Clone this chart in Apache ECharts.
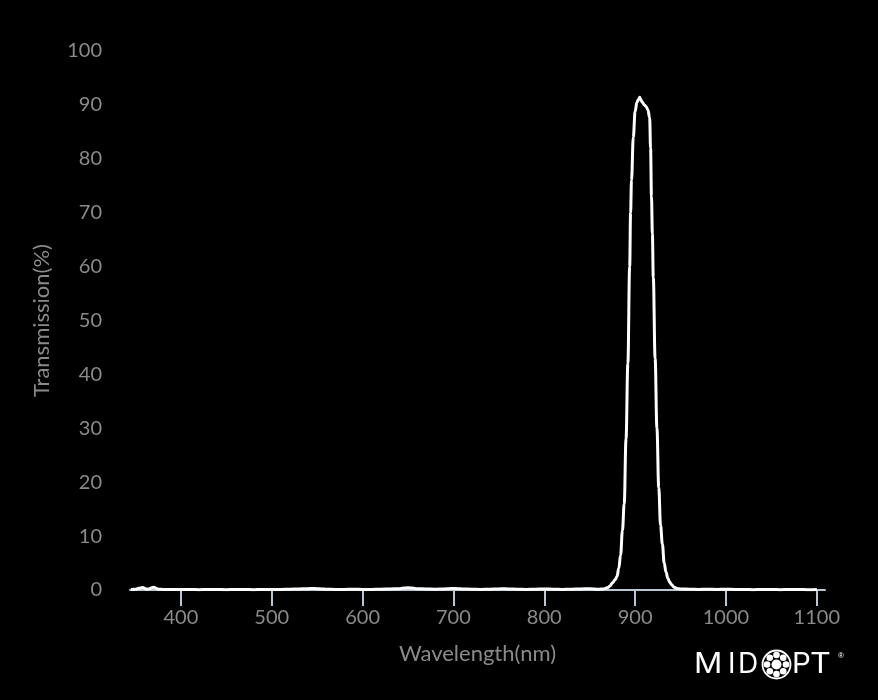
<!DOCTYPE html>
<html>
<head>
<meta charset="utf-8">
<script src="https://cdn.jsdelivr.net/npm/echarts@6/dist/echarts.min.js"></script>
<style>
html,body{margin:0;padding:0;background:#000;}
#chart{width:878px;height:700px;}
</style>
</head>
<body>
<div id="chart"></div>
<script>
var wavelengths = [345,350,355,358,361,364,367,370,373,376,380,390,400,410,420,430,440,450,460,470,480,490,500,510,520,530,540,545,550,555,560,570,580,590,600,610,620,630,640,645,650,655,660,670,680,690,695,700,705,710,720,730,740,750,755,760,770,780,790,800,810,820,830,840,850,860,865,870,872,875,878,880,882,884,886,888,890,892,894,895,896,898,900,902,904,905,906,908,910,912,914,916,917,918,919,920,922,924,926,928,930,932,934,936,938,940,943,946,950,960,970,980,990,1000,1010,1020,1030,1040,1050,1060,1070,1080,1090,1100];
var transmission = [0.1,0.15,0.35,0.45,0.25,0.15,0.35,0.5,0.3,0.15,0.1,0.1,0.1,0.1,0.05,0.1,0.1,0.05,0.1,0.1,0.05,0.1,0.1,0.1,0.15,0.2,0.25,0.3,0.25,0.2,0.15,0.1,0.1,0.15,0.1,0.1,0.15,0.2,0.25,0.35,0.4,0.35,0.25,0.2,0.15,0.2,0.25,0.3,0.25,0.2,0.15,0.1,0.15,0.2,0.25,0.2,0.15,0.1,0.15,0.2,0.15,0.1,0.15,0.2,0.25,0.15,0.2,0.45,0.7,1.3,1.9,2.5,4.0,6.5,11,16,28,42,60,70,76,84,88.8,90.5,91.1,91.4,91.0,90.5,90.0,89.7,89.1,87.6,82,73,66,58,43,30,19,12,8.5,5,3.3,2.2,1.5,1.0,0.5,0.3,0.2,0.15,0.1,0.15,0.1,0.15,0.1,0.1,0.05,0.1,0.1,0.05,0.1,0.1,0.05,0.1];
var xTickLabels = [400,500,600,700,800,900,1000,1100];
var yMin = 0, yMax = 100, yStep = 10;
var xMin = 344, xMax = 1109;

var chart = echarts.init(document.getElementById('chart'), null, {renderer:'canvas'});
var seriesData = wavelengths.map(function(w,i){return [w, transmission[i]];});
var fontFam = 'Lato, "Open Sans", sans-serif';
var axisCol = '#b9c6d3';
var labelCol = '#8a8a8a';
var logoFont = '400 28px Inter, "DejaVu Sans", sans-serif';

function letter(ch, x, sx) {
  return {type:'text', x:x, y:651, scaleX:sx, style:{text:ch, fill:'#ffffff', font:logoFont, textAlign:'left', textVerticalAlign:'top'}};
}

chart.setOption({
  backgroundColor: '#000000',
  animation: false,
  grid: {left:130, right:53, top:51, bottom:110, containLabel:false, outerBoundsMode:'none'},
  xAxis: {
    type:'value', min:xMin, max:xMax,
    name:'Wavelength(nm)', nameLocation:'middle', nameGap:53,
    nameTextStyle:{color:labelCol, fontSize:22, fontFamily:fontFam},
    axisLine:{show:true, onZero:false, lineStyle:{color:axisCol, width:2}},
    axisTick:{show:true, length:16, customValues:xTickLabels, lineStyle:{color:axisCol, width:2}},
    axisLabel:{customValues:xTickLabels, color:labelCol, fontSize:20, fontFamily:fontFam, margin:18,
      formatter:function(v){return String(v);}},
    splitLine:{show:false}
  },
  yAxis: {
    type:'value', min:yMin, max:yMax, interval:yStep,
    name:'Transmission(%)', nameLocation:'middle', nameGap:77,
    nameTextStyle:{color:labelCol, fontSize:22, fontFamily:fontFam},
    axisLine:{show:false}, axisTick:{show:false},
    axisLabel:{color:labelCol, fontSize:20, fontFamily:fontFam, margin:28},
    splitLine:{show:false}
  },
  series: [{
    type:'line', data:seriesData, showSymbol:false, smooth:0.4, smoothMonotone:'x',
    lineStyle:{color:'#ffffff', width:3}, z:1
  }],
  graphic: [
    letter('M', 694, 1.12),
    letter('I', 728, 1),
    letter('D', 738, 1),
    {type:'circle', shape:{cx:776.5, cy:664.5, r:14}, style:{fill:'none', stroke:'#ffffff', lineWidth:1.8}},
    {type:'circle', shape:{cx:776.5, cy:664.5, r:5}, style:{fill:'#ffffff'}},
    {type:'circle', shape:{cx:776.5, cy:655, r:3.3}, style:{fill:'#ffffff'}},
    {type:'circle', shape:{cx:776.5, cy:674, r:3.3}, style:{fill:'#ffffff'}},
    {type:'circle', shape:{cx:767, cy:664.5, r:3.3}, style:{fill:'#ffffff'}},
    {type:'circle', shape:{cx:786, cy:664.5, r:3.3}, style:{fill:'#ffffff'}},
    {type:'circle', shape:{cx:769.8, cy:657.8, r:3.3}, style:{fill:'#ffffff'}},
    {type:'circle', shape:{cx:783.2, cy:657.8, r:3.3}, style:{fill:'#ffffff'}},
    {type:'circle', shape:{cx:769.8, cy:671.2, r:3.3}, style:{fill:'#ffffff'}},
    {type:'circle', shape:{cx:783.2, cy:671.2, r:3.3}, style:{fill:'#ffffff'}},
    letter('P', 792, 1.05),
    letter('T', 810, 1.15),
    {type:'text', x:838, y:652, style:{text:'®', fill:'#ffffff', font:'8px sans-serif'}}
  ]
});
</script>
</body>
</html>
